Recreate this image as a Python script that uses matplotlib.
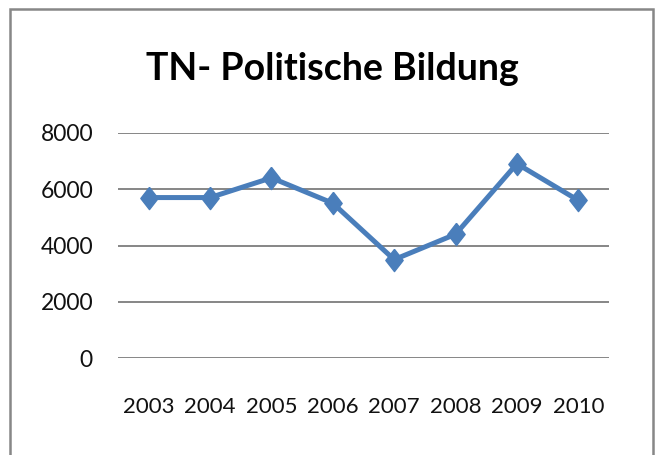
import matplotlib
matplotlib.use("Agg")
import matplotlib.pyplot as plt
from matplotlib.patches import Rectangle

years = ["2003", "2004", "2005", "2006", "2007", "2008", "2009", "2010"]
values = [5700, 5700, 6400, 5500, 3500, 4400, 6900, 5600]
yticks = [0, 2000, 4000, 6000, 8000]
title = "TN- Politische Bildung"

plt.rcParams['font.family'] = ['Lato', 'DejaVu Sans']

W, H = 656, 455
fig = plt.figure(figsize=(W / 100, H / 100), dpi=100)
fig.patch.set_facecolor("white")

# outer frame
fig.patches.append(Rectangle((9.5 / W, -0.05), (653 - 9.5) / W, 1.05 - 9.5 / H,
                             transform=fig.transFigure, fill=False,
                             edgecolor="#878787", linewidth=1.8))

ax = fig.add_axes([118 / W, 1 - 358.3 / H, (609 - 118) / W, (358.3 - 132.7) / H])
x = list(range(len(years)))
diamond = [(0, 1), (0.78, 0), (0, -1), (-0.78, 0), (0, 1)]
ax.plot(x, values, color="#4A7EBB", linewidth=3.6, marker=diamond,
        markersize=16, markerfacecolor="#4A7EBB", markeredgecolor="#4A7EBB",
        zorder=3, clip_on=False)

ax.set_xlim(-0.5, len(years) - 0.5)
ax.set_ylim(0, 8000)
ax.set_yticks(yticks)
ax.set_yticklabels([str(v) for v in yticks])
ax.set_xticks(x)
ax.set_xticklabels(years)
ax.yaxis.grid(True, color="#868686", linewidth=1.4)
ax.set_axisbelow(True)
for s in ax.spines.values():
    s.set_visible(False)
ax.tick_params(axis="both", length=0, colors="#111111")
ax.tick_params(axis="y", pad=18, labelsize=16.5)
ax.tick_params(axis="x", pad=28, labelsize=16)

fig.text(332 / W, 1 - 80 / H, title, ha="center", va="baseline",
         fontsize=27, fontweight="bold")

fig.savefig("out.png", dpi=100, facecolor="white")
